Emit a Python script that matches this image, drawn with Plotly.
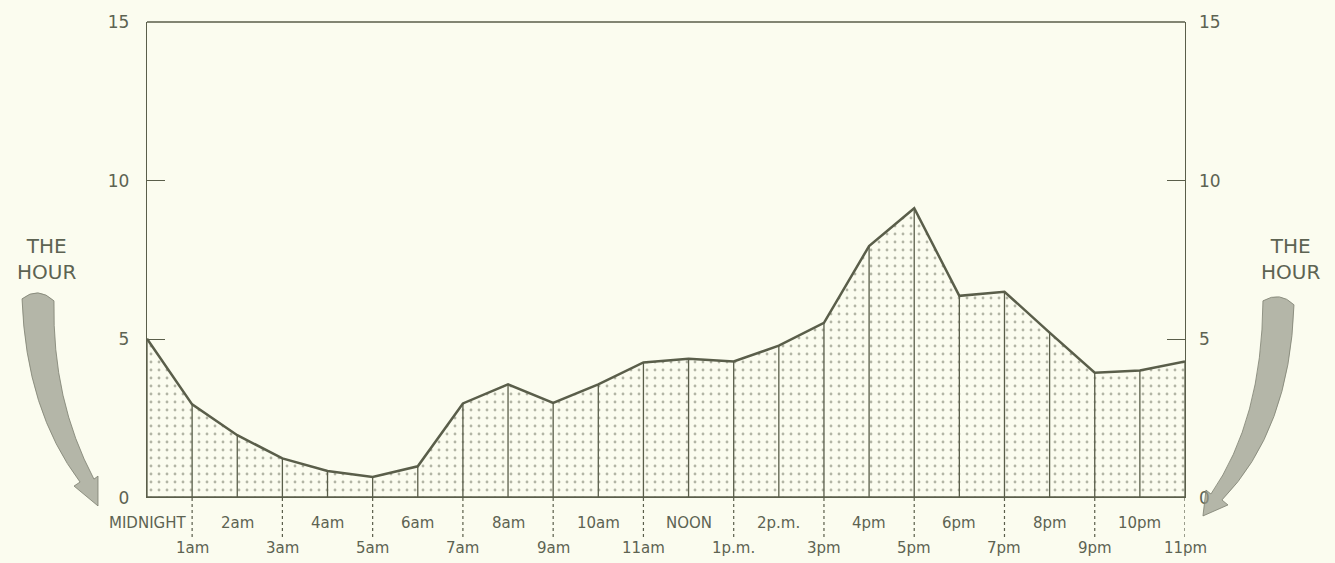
"""一日の時刻別推移 — 点描エリアチャート."""

import plotly.graph_objects as go

# 時刻（0 = 深夜0時）と値
hours = list(range(24))
values = [5.02, 2.95, 1.98, 1.25, 0.85, 0.66, 1.0, 2.98, 3.58, 3.0, 3.58, 4.27,
          4.39, 4.3, 4.8, 5.52, 7.94, 9.13, 6.37, 6.5, 5.21, 3.95, 4.02, 4.3]
hour_labels = ["MIDNIGHT", "1am", "2am", "3am", "4am", "5am", "6am", "7am",
               "8am", "9am", "10am", "11am", "NOON", "1p.m.", "2p.m.", "3pm",
               "4pm", "5pm", "6pm", "7pm", "8pm", "9pm", "10pm", "11pm"]
y_ticks = [0, 5, 10, 15]

BG = "#fbfcef"
INK = "#5a5e4a"
TEXT = "#5d6352"
FONT = "DejaVu Sans"

# プロット領域（ピクセル）
L, R, T, B = 147, 150, 20, 65
W, H = 1335, 563
PW, PH = W - L - R, H - T - B


def px(x):
    return (x - L) / PW


def py(y):
    return (H - B - y) / PH


def arrow_path(pts):
    # ピクセル座標の矢印輪郭をペーパー座標に変換
    out = []
    for cmd, *coords in pts:
        xy = []
        for i in range(0, len(coords), 2):
            xy.append(f"{px(coords[i]):.4f},{py(coords[i + 1]):.4f}")
        out.append(cmd + " " + " ".join(xy))
    return " ".join(out) + " Z"


fig = go.Figure()

# 点描の塗り + 折れ線
fig.add_trace(go.Scatter(
    x=hours, y=values,
    mode="lines",
    fill="tozeroy",
    fillpattern={"shape": ".", "fgcolor": "#6a6d5c", "bgcolor": BG,
                 "size": 8, "solidity": 0.1},
    line={"color": INK, "width": 2.5},
    hoverinfo="skip",
))

# 各時刻の縦線
vx, vy = [], []
for h, v in zip(hours, values):
    vx.extend([h, h, None])
    vy.extend([0, v, None])
fig.add_trace(go.Scatter(
    x=vx, y=vy, mode="lines",
    line={"color": INK, "width": 1.3},
    hoverinfo="skip",
))

# 右軸用（不可視）
fig.add_trace(go.Scatter(
    x=hours, y=values, yaxis="y2", mode="lines",
    line={"color": "rgba(0,0,0,0)"}, hoverinfo="skip",
))

shapes = []
# 基線
shapes.append({"type": "line", "xref": "x", "yref": "y",
               "x0": hours[0], "x1": hours[-1], "y0": 0, "y1": 0,
               "line": {"color": INK, "width": 3.5}})
# 上枠
shapes.append({"type": "line", "xref": "paper", "yref": "paper",
               "x0": 0, "x1": 1, "y0": 1, "y1": 1,
               "line": {"color": INK, "width": 1.3}})
# 奇数時刻の点線目盛
for h in hours:
    if h % 2 == 1:
        shapes.append({"type": "line", "xref": "x", "yref": "paper",
                       "x0": h, "x1": h, "y0": 0, "y1": py(538),
                       "line": {"color": INK, "width": 1.2, "dash": "dot"}})

# 「THE HOUR」の矢印
left_arrow = arrow_path([
    ("M", 22, 298),
    ("Q", 26, 410, 80, 482),
    ("L", 74, 486),
    ("L", 98, 506),
    ("L", 98, 476),
    ("L", 94, 479),
    ("Q", 52, 400, 54, 300),
    ("Q", 38, 285, 22, 298),
])
right_arrow = arrow_path([
    ("M", 1294, 304),
    ("Q", 1290, 430, 1222, 500),
    ("L", 1228, 505),
    ("L", 1203, 516),
    ("L", 1206, 490),
    ("L", 1211, 494),
    ("Q", 1262, 420, 1263, 300),
    ("Q", 1280, 290, 1294, 304),
])
for p in (left_arrow, right_arrow):
    shapes.append({"type": "path", "xref": "paper", "yref": "paper",
                   "path": p, "fillcolor": "rgba(150,152,138,0.7)",
                   "line": {"color": "rgba(125,128,112,0.8)", "width": 1}})

annotations = []
for x_pix in (46, 1290):
    annotations.append({
        "xref": "paper", "yref": "paper", "x": px(x_pix), "y": py(258),
        "text": "THE<br>HOUR", "showarrow": False,
        "font": {"family": FONT, "size": 20, "color": TEXT},
        "xanchor": "center", "yanchor": "middle",
    })

# 時刻ラベル（偶数は上段、奇数は下段）
for h, lab in zip(hours, hour_labels):
    annotations.append({
        "xref": "x", "yref": "paper", "x": h,
        "y": py(523) if h % 2 == 0 else py(548),
        "text": lab, "showarrow": False,
        "font": {"family": FONT, "size": 15, "color": TEXT},
        "xanchor": "center", "yanchor": "middle",
    })

axis_y = {
    "range": [0, 15], "tickvals": y_ticks, "ticks": "inside", "ticklen": 18,
    "tickcolor": INK, "tickwidth": 1.2, "showgrid": False, "zeroline": False,
    "tickfont": {"family": FONT, "size": 17, "color": TEXT},
    "ticklabelstandoff": 13,
}

fig.update_layout(
    width=W, height=H,
    paper_bgcolor=BG, plot_bgcolor=BG,
    showlegend=False,
    margin={"l": L, "r": R, "t": T, "b": B},
    xaxis={
        "range": [hours[0], hours[-1]], "showticklabels": False,
        "ticks": "", "showgrid": False, "zeroline": False, "showline": False,
    },
    yaxis={**axis_y, "showline": True, "linecolor": INK, "linewidth": 1.3,
           "mirror": True},
    yaxis2={**axis_y, "overlaying": "y", "side": "right", "showline": False},
    shapes=shapes,
    annotations=annotations,
)

fig.write_html(
    "out.html",
    config={"displayModeBar": False},
    post_script="document.body.style.margin='0';"
                f"document.body.style.background='{BG}';",
)
